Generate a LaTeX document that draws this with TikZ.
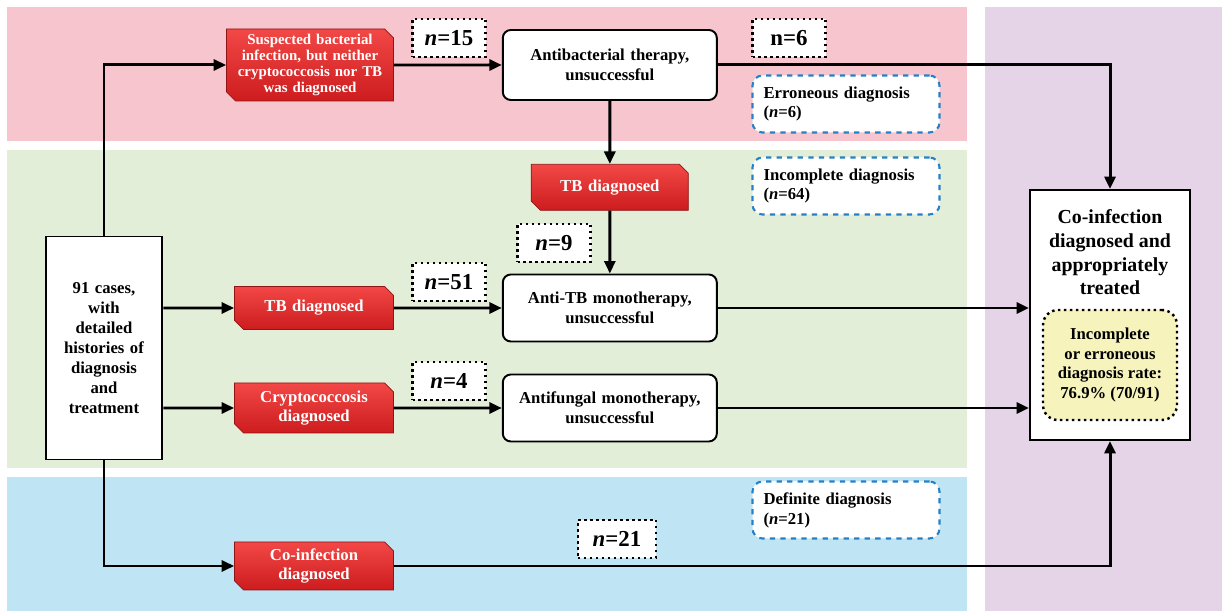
\documentclass[tikz,border=0pt]{standalone}
\usepackage{fontspec}
\setmainfont{Liberation Serif}
\usepackage{tikz}
\usetikzlibrary{shapes.misc, arrows.meta, calc, positioning}
\definecolor{bandpink}{RGB}{246,197,205}
\definecolor{bandgreen}{RGB}{227,238,216}
\definecolor{bandblue}{RGB}{191,228,243}
\definecolor{bandpurple}{RGB}{229,211,232}
\definecolor{diagtop}{RGB}{242,72,70}
\definecolor{diagbottom}{RGB}{205,28,30}
\definecolor{noteblue}{RGB}{38,128,200}
\definecolor{rateyellow}{RGB}{246,243,188}
\tikzstyle{start} = [rectangle, draw=black, line width=1.1pt, fill=white, minimum width=23mm, minimum height=44.6mm, text width=21mm, align=center, font=\fontsize{9.5}{11.3}\selectfont\bfseries]
\tikzstyle{diag} = [chamfered rectangle, chamfered rectangle corners={north east, south west}, chamfered rectangle sep=0.9mm, inner xsep=0.5mm, inner ysep=0.2mm, draw=diagbottom!70!black, top color=diagtop, bottom color=diagbottom, text=white, text width=29mm, minimum height=8.6mm, align=center, font=\fontsize{9.5}{11.3}\selectfont\bfseries]
\tikzstyle{therapy} = [rectangle, rounded corners=1.6mm, draw=black, line width=1.1pt, fill=white, minimum width=42.8mm, minimum height=13.4mm, text width=40mm, align=center, font=\fontsize{9.5}{11.3}\selectfont\bfseries]
\tikzstyle{count} = [rectangle, draw=black, dotted, line width=1.4pt, fill=white, minimum width=14.6mm, minimum height=7.6mm, font=\fontsize{13}{15}\selectfont\bfseries]
\tikzstyle{note} = [rectangle, rounded corners=2mm, draw=noteblue, dashed, line width=1.2pt, fill=white, minimum width=37.4mm, minimum height=11.4mm, text width=33mm, align=left, font=\fontsize{9.5}{11.3}\selectfont\bfseries]
\tikzstyle{flow} = [draw=black, line width=1.7pt, -{Triangle[length=2.5mm, width=2.2mm]}]

\begin{document}
\begin{tikzpicture}[node distance = 10mm, auto]
		\useasboundingbox (0,0) rectangle (244.4mm,-122.2mm);
		\fill[bandpink] (1.4mm,-1.4mm) rectangle (193.4mm,-28.2mm);
		\fill[bandgreen] (1.4mm,-30mm) rectangle (193.4mm,-93.6mm);
		\fill[bandblue] (1.4mm,-95.4mm) rectangle (193.4mm,-122.2mm);
		\fill[bandpurple] (197mm,-1.4mm) rectangle (244.4mm,-122.2mm);

		\node (Cases) [start] at (20.8mm,-69.6mm) {91 cases,\\with\\detailed\\histories of\\diagnosis\\and\\treatment};
		\node (Suspected) [diag, text width=30.6mm, inner ysep=0pt, minimum height=14.4mm, font=\fontsize{8.5}{9.1}\selectfont\bfseries] at (62mm,-13mm) {Suspected bacterial\\infection, but neither\\cryptococcosis nor TB\\was diagnosed};
		\node (TBLeft) [diag] at (62.8mm,-61.6mm) {TB diagnosed};
		\node (Crypto) [diag, minimum height=10mm] at (62.8mm,-81.6mm) {Cryptococcosis\\diagnosed};
		\node (CoInfection) [diag, minimum height=9.6mm] at (62.8mm,-113.2mm) {Co-infection\\diagnosed};

		\node (Antibacterial) [therapy, minimum height=14mm, right = 21.6mm of Suspected] {Antibacterial therapy,\\unsuccessful};
		\node (TBMid) [diag, text width=28.6mm, minimum height=9.2mm, below = 12.6mm of Antibacterial] {TB diagnosed};
		\node (AntiTB) [therapy, right = 21.6mm of TBLeft] {Anti-TB monotherapy,\\unsuccessful};
		\node (Antifungal) [therapy, right = 21.6mm of Crypto] {Antifungal monotherapy,\\unsuccessful};

		\node (Treated) [rectangle, draw=black, line width=1.1pt, fill=white, minimum width=32mm, minimum height=50mm] at (222mm,-63mm) {};
		\node (TreatedText) [below = 2.8mm of Treated.north, align=center, font=\fontsize{11.3}{13.6}\selectfont\bfseries] {Co-infection\\diagnosed and\\appropriately\\treated};
		\node (Rate) [rectangle, rounded corners=3mm, draw=black, dotted, line width=1.4pt, fill=rateyellow, minimum width=26.8mm, minimum height=22mm, align=center, font=\fontsize{9.5}{11.3}\selectfont\bfseries] at (222mm,-73mm) {Incomplete\\or erroneous\\diagnosis rate:\\76.9\% (70/91)};

		\node (NBact) [count] at (89.8mm,-7.6mm) {\textit{n}=15};
		\node (NSix) [count] at (157.8mm,-7.6mm) {n=6};
		\node (NNine) [count] at (110.8mm,-48.6mm) {\textit{n}=9};
		\node (NFiftyOne) [count] at (89.8mm,-56.4mm) {\textit{n}=51};
		\node (NFour) [count] at (89.8mm,-76.2mm) {\textit{n}=4};
		\node (NTwentyOne) [count, minimum width=15.6mm] at (123.4mm,-107.8mm) {\textit{n}=21};

		\node (Erroneous) [note] at (169.2mm,-20.8mm) {Erroneous diagnosis\\(\textit{n}=6)};
		\node (Incomplete) [note] at (169.2mm,-37.2mm) {Incomplete diagnosis\\(\textit{n}=64)};
		\node (Definite) [note] at (169.2mm,-102mm) {Definite diagnosis\\(\textit{n}=21)};

		\draw [flow] (Cases.north) |- (Suspected.west);
		\draw [flow] (Suspected) -- (Antibacterial);
		\draw [flow] (Antibacterial) -| (Treated.north);
		\draw [flow] (Antibacterial) -- (TBMid);
		\draw [flow] (TBMid) -- (AntiTB);
		\draw [flow] (Cases.east |- TBLeft.west) -- (TBLeft);
		\draw [flow] (TBLeft) -- (AntiTB);
		\draw [flow] (AntiTB) -- (Treated.west |- AntiTB.east);
		\draw [flow] (Cases.east |- Crypto.west) -- (Crypto);
		\draw [flow] (Crypto) -- (Antifungal);
		\draw [flow] (Antifungal) -- (Treated.west |- Antifungal.east);
		\draw [flow] (Cases.south) |- (CoInfection.west);
		\draw [flow] (CoInfection) -| (Treated.south);
\end{tikzpicture}
\end{document}
